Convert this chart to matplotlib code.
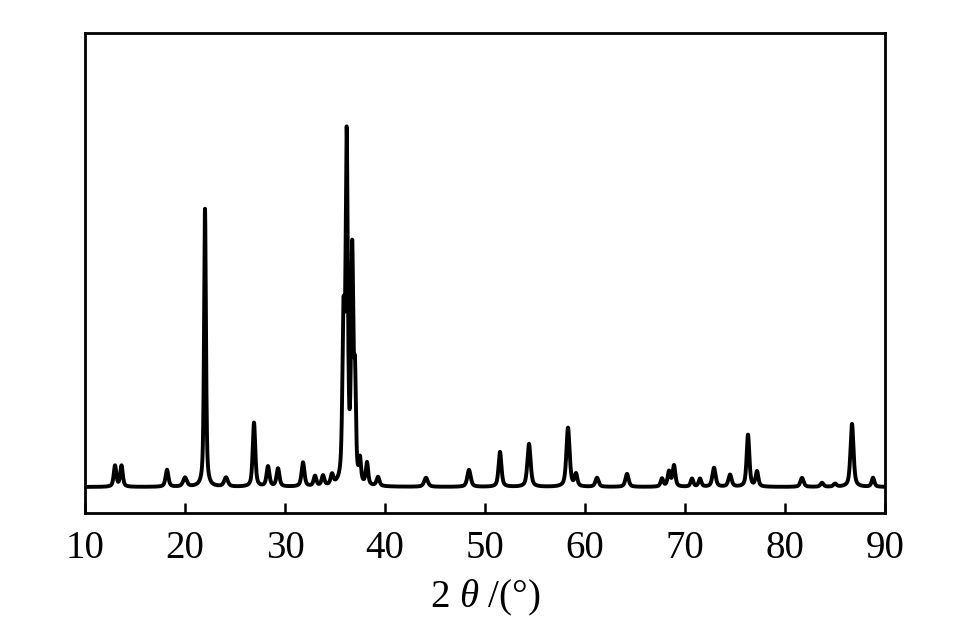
import numpy as np
import matplotlib
matplotlib.use("Agg")
import matplotlib.pyplot as plt

plt.rcParams['font.family'] = ['Liberation Serif', 'DejaVu Serif']
plt.rcParams['mathtext.fontset'] = 'custom'
plt.rcParams['mathtext.rm'] = 'Liberation Serif'
plt.rcParams['mathtext.it'] = 'Liberation Serif:italic'

# Peak list: 2theta (deg), intensity (a.u.), half width (deg)
peak_pos = [13.0, 13.65, 18.2, 20.0, 22.0, 24.1, 26.9, 28.3, 29.3, 31.8,
            33.0, 33.8, 34.7, 35.85, 36.17, 36.72, 37.0, 37.5, 38.2, 39.3,
            44.1, 48.4, 51.5, 54.4, 58.3, 59.1, 61.2, 64.2, 67.7, 68.4,
            68.9, 70.7, 71.5, 72.9, 74.5, 76.3, 77.2, 81.7, 83.7, 85.0,
            86.7, 88.8]
peak_int = [21, 21, 17, 9, 278, 9, 64, 20, 18, 24,
            10, 10, 10, 155, 338, 226, 95, 22, 22, 9,
            9, 17, 35, 43, 59, 12, 9, 13, 8, 15,
            21, 8, 8, 19, 12, 52, 15, 9, 4, 3,
            63, 9]
peak_hw = [0.15, 0.15, 0.17, 0.22, 0.11, 0.22, 0.15, 0.17, 0.17, 0.17,
           0.16, 0.16, 0.16, 0.13, 0.13, 0.13, 0.11, 0.12, 0.14, 0.17,
           0.22, 0.2, 0.17, 0.19, 0.19, 0.16, 0.19, 0.19, 0.16, 0.16,
           0.16, 0.16, 0.16, 0.19, 0.19, 0.16, 0.16, 0.19, 0.18, 0.18,
           0.18, 0.16]
eta = 0.6

two_theta = np.arange(10.0, 90.0001, 0.005)
intensity = np.zeros_like(two_theta)
for p, h, w in zip(peak_pos, peak_int, peak_hw):
    u = (two_theta - p) / w
    intensity += h * (eta / (1.0 + u ** 2) + (1 - eta) * np.exp(-np.log(2) * u ** 2))

x_ticks = [10, 20, 30, 40, 50, 60, 70, 80, 90]

fig = plt.figure(figsize=(9.63, 6.36), dpi=100)
ax = fig.add_axes([85/963, 1 - 513/636, 800/963, 480/636])
ax.plot(two_theta, intensity, color='black', lw=2.8, solid_joinstyle='round')
ax.set_xlim(10, 90)
ax.set_ylim(-26, 454)
ax.set_xticks(x_ticks)
ax.set_xticklabels([str(t) for t in x_ticks])
ax.set_yticks([])
ax.tick_params(axis='x', direction='in', length=7, width=1.8, labelsize=28, pad=12)
for s in ax.spines.values():
    s.set_linewidth(2.0)
ax.set_xlabel(r'2 $\theta$ /(°)', fontsize=28, labelpad=8)

fig.savefig('out.png', dpi=100)
